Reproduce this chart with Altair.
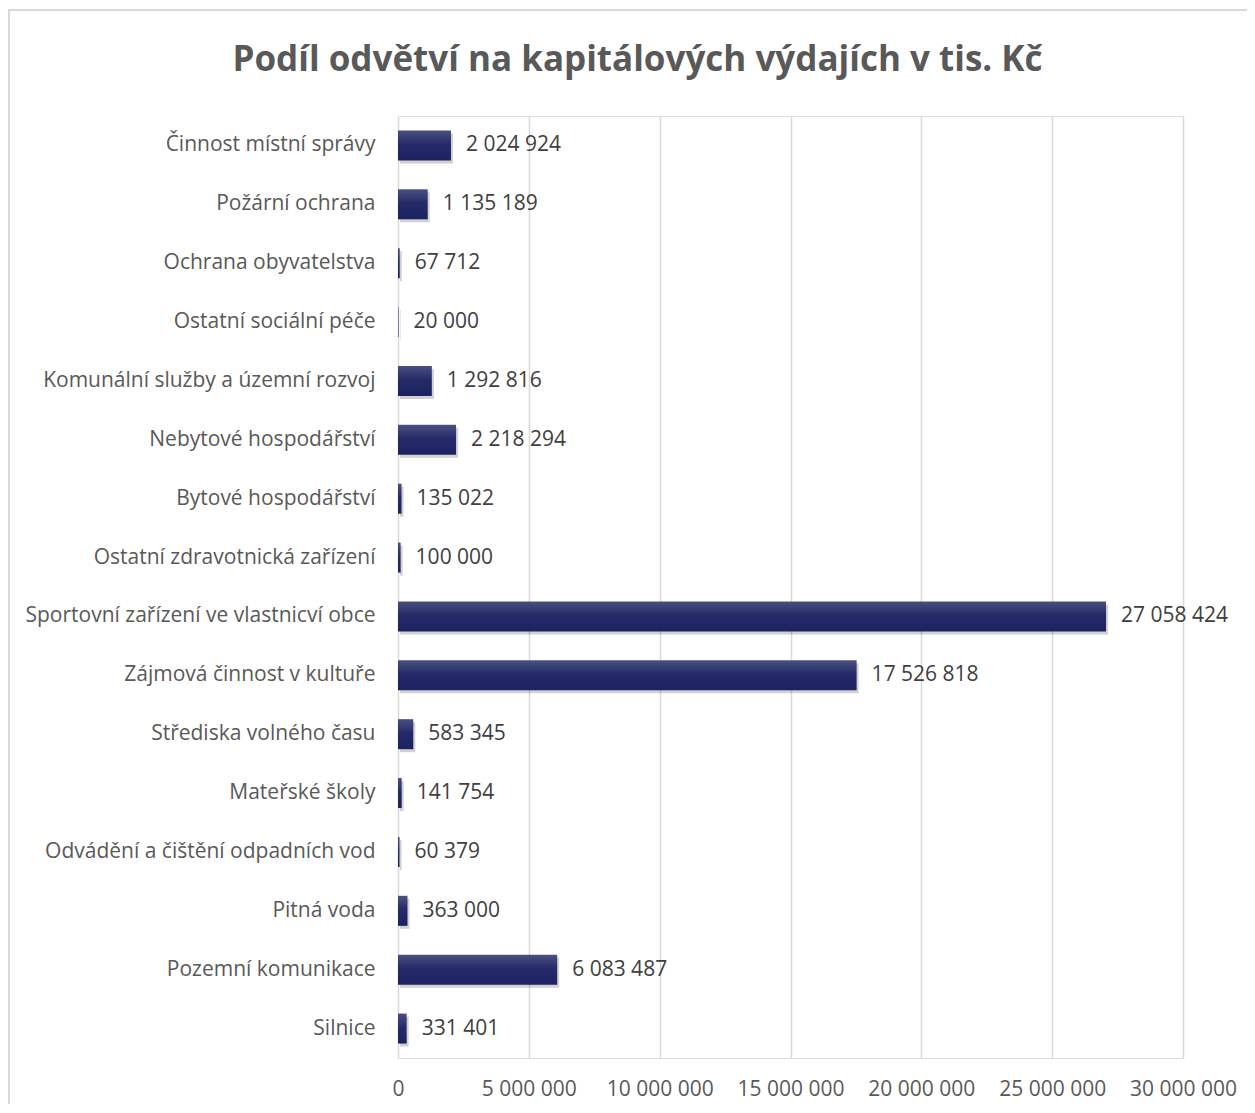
import altair as alt
import pandas as pd

categories = [
    "Činnost místní správy",
    "Požární ochrana",
    "Ochrana obyvatelstva",
    "Ostatní sociální péče",
    "Komunální služby a územní rozvoj",
    "Nebytové hospodářství",
    "Bytové hospodářství",
    "Ostatní zdravotnická zařízení",
    "Sportovní zařízení ve vlastnicví obce",
    "Zájmová činnost v kultuře",
    "Střediska volného času",
    "Mateřské školy",
    "Odvádění a čištění odpadních vod",
    "Pitná voda",
    "Pozemní komunikace",
    "Silnice",
]
values = [
    2024924, 1135189, 67712, 20000, 1292816, 2218294, 135022, 100000,
    27058424, 17526818, 583345, 141754, 60379, 363000, 6083487, 331401,
]
x_ticks = [0, 5000000, 10000000, 15000000, 20000000, 25000000, 30000000]

df = pd.DataFrame({"kat": categories, "val": values})
df["lbl"] = [f"{v:,}".replace(",", " ") for v in values]

FONT = "Open Sans"
GREY = "#595959"

y_enc = alt.Y("kat:N", sort=categories, title=None,
              scale=alt.Scale(paddingInner=0.49, paddingOuter=0.245),
              axis=alt.Axis(labelFontSize=21, labelColor=GREY, labelFont=FONT,
                            labelPadding=23, labelLimit=0, ticks=False, domain=False, grid=False))
x_enc = alt.X("val:Q", title=None,
              scale=alt.Scale(domain=[0, 30000000], nice=False),
              axis=alt.Axis(values=x_ticks, labelFontSize=21, labelColor=GREY, labelFont=FONT,
                            labelPadding=20, labelOverlap=False, labelFlush=False,
                            ticks=False, domain=False, grid=True,
                            gridColor="#d9d9d9", gridWidth=1.5,
                            labelExpr="join(split(format(datum.value, ','), ','), ' ')"))

base = alt.Chart(df)

shadow = base.mark_bar(color="#000000", opacity=0.18, xOffset=2, yOffset=3).encode(
    x=x_enc, y=y_enc)

grad = alt.Gradient(
    gradient="linear",
    stops=[alt.GradientStop(color="#4b5080", offset=0),
           alt.GradientStop(color="#252b6a", offset=0.45),
           alt.GradientStop(color="#1b2161", offset=1)],
    x1=0, x2=0, y1=0, y2=1)

bars = base.mark_bar(color=grad).encode(x=x_enc, y=y_enc)

labels = base.mark_text(align="left", baseline="middle", dx=15, fontSize=21,
                        font=FONT, color="#404040").encode(
    x="val:Q", y=alt.Y("kat:N", sort=categories), text="lbl:N")

border_df = pd.DataFrame({"b": [1]})
border = alt.Chart(border_df).mark_rect(fill=None, stroke="#d9d9d9", strokeWidth=2).encode(
    x=alt.value(-389), x2=alt.value(900), y=alt.value(-106), y2=alt.value(1000))

chart = alt.layer(border, shadow, bars, labels).properties(
    width=785, height=942,
    title=alt.TitleParams("Podíl odvětví na kapitálových výdajích v tis. Kč",
                          font=FONT, fontSize=35, fontWeight="bold", color=GREY,
                          anchor="middle", frame="group", dx=-153, offset=-69),
    autosize=alt.AutoSizeParams(type="none"),
    padding={"left": 390, "top": 108, "right": 64, "bottom": 46},
).configure_view(stroke=None).configure(background="white")

chart.save("out.html", embed_options={"renderer": "svg", "actions": False})
